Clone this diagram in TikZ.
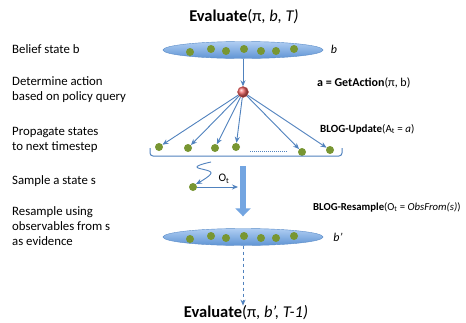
\documentclass[tikz,border=0pt]{standalone}
\usepackage{fontspec}
\setmainfont{Carlito}
\usepackage{tikz}
\usetikzlibrary{arrows.meta,positioning,shapes.geometric}

\definecolor{beliefedge}{RGB}{90,140,200}
\definecolor{beliefhi}{RGB}{175,205,242}
\definecolor{belieflo}{RGB}{95,148,212}
\definecolor{lineblue}{RGB}{80,130,190}
\definecolor{dropblue}{RGB}{115,165,225}
\definecolor{stategreen}{RGB}{120,150,50}
\definecolor{actionred}{RGB}{240,100,100}

\begin{document}
\begin{tikzpicture}[x=1pt, y=-1pt,
  belief/.style={ellipse, draw=beliefedge, thin, top color=beliefhi, bottom color=belieflo, minimum width=160, minimum height=17, inner sep=0},
  state/.style={circle, fill=stategreen, minimum size=8, inner sep=0},
  action/.style={circle, draw=actionred!80!black, thin, ball color=actionred, minimum size=11, inner sep=0},
  steplabel/.style={font=\fontsize{12.8}{14.8}\selectfont, align=left, anchor=west, inner sep=0},
  rulelabel/.style={font=\fontsize{11}{13}\selectfont, anchor=west, inner sep=0},
  title/.style={font=\fontsize{16.5}{19}\selectfont, inner sep=0},
  arrow/.style={-{Stealth[length=6pt,width=5pt]}, draw=lineblue, line width=0.9pt},
  blockarrow/.style={-{Triangle[length=8pt,width=15pt]}, draw=dropblue, line width=6pt}
]
\fill[white] (0,0) rectangle (466,322);
\useasboundingbox (0,0) rectangle (466,322);

% titles
\node[title] (eval) at (244,17) {\textbf{Evaluate}(π, \textit{b, T)}};
\node[title] (evalnext) at (246,313) {\textbf{Evaluate}(π, \textit{b’, T-1)}};

% left column
\node[steplabel] (beliefl) at (12,49) {Belief state b};
\node[steplabel] (actl) at (12,90) {Determine action\\based on policy query};
\node[steplabel] (propl) at (12,140) {Propagate states\\to next timestep};
\node[steplabel] (samplel) at (12,181) {Sample a state s};
\node[steplabel] (resl) at (12,226) {Resample using\\observables from s\\as evidence};

% belief state b
\node[belief] (top) at (243,50) {};
\node[state] (t1) at (190,52) {};
\node[state] (t2) at (211,49) {};
\node[state] (t3) at (226,51) {};
\node[state] (t4) at (244,49) {};
\node[state] (t5) at (261,51) {};
\node[state] (t6) at (276,51) {};
\node[state] (t7) at (294,49) {};
\node[font=\fontsize{12}{14}\selectfont\itshape] (bl) at (334,49) {b};

% action
\node[action] (act) at (243,92) {};
\draw[arrow] (top) -- (act);
\node[rulelabel, font=\fontsize{12}{14}\selectfont] (getact) at (317,83) {\textbf{a = GetAction}(π, b)};

% propagated states
\node[state] (p1) at (159,147) {};
\node[state] (p2) at (188,148) {};
\node[state] (p3) at (215,148) {};
\node[state] (p4) at (236,147) {};
\node[state] (p5) at (302,152) {};
\node[state] (p6) at (330,150) {};
\foreach \i in {1,...,6}
  \draw[arrow] (act) -- (p\i);
\coordinate (dl) at (250,151);
\coordinate (dr) at (288,151);
\draw[lineblue, densely dotted, line width=1pt] (dl) -- (dr);
\node[rulelabel] (update) at (320,129) {\textbf{BLOG-Update}(A\textsubscript{t} = \textit{a})};

% bracket
\coordinate (brl) at (150,148);
\coordinate (brr) at (342,148);
\coordinate (brm) at (246,156);
\draw[lineblue, line width=1pt, rounded corners=3] (brl) |- (brm) -| (brr);

% sampled state
\node[state] (s) at (193,187) {};
\coordinate (sq) at (211,162);
\coordinate (sqa) at (197,167);
\coordinate (sqb) at (211,173);
\coordinate (obs) at (238,187);
\draw[arrow] plot[smooth, tension=0.7] coordinates {(sq) (sqa) (sqb) (s.north east)};
\draw[arrow] (s) -- (obs);
\node[font=\fontsize{11.5}{13}\selectfont] (ot) at (224,179) {O\textsubscript{t}};
\node[rulelabel, font=\fontsize{10.7}{12}\selectfont] (resample) at (313,207) {\textbf{BLOG-Resample}(O\textsubscript{t} = \textit{ObsFrom(s)})};

% belief state b'
\node[belief] (bot) at (243,237) {};
\node[state] (b1) at (190,239) {};
\node[state] (b2) at (211,236) {};
\node[state] (b3) at (226,238) {};
\node[state] (b4) at (244,236) {};
\node[state] (b5) at (261,238) {};
\node[state] (b6) at (276,238) {};
\node[state] (b7) at (294,236) {};
\node[font=\fontsize{12}{14}\selectfont\itshape] (bpl) at (338,237) {b’};

\coordinate (drop) at (243,166);
\draw[blockarrow, shorten >=12pt] (drop) -- (bot.north);
\draw[arrow, dashed] (bot.south) -- (bot.south |- evalnext.north);

\end{tikzpicture}
\end{document}
